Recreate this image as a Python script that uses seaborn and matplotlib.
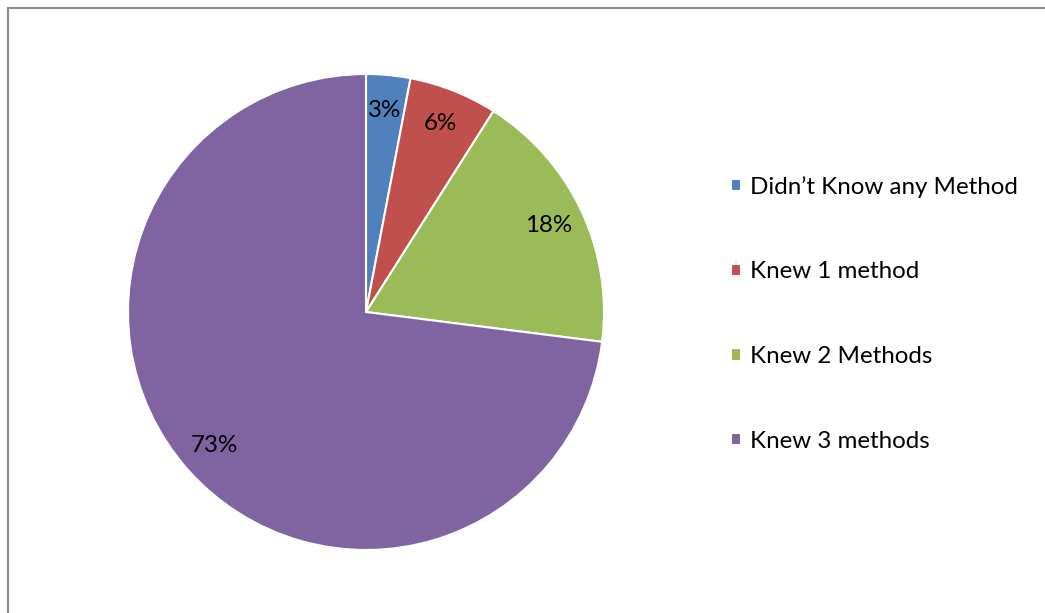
import seaborn as sns
import matplotlib.pyplot as plt
from matplotlib.patches import Rectangle

categories = ['Didn\u2019t Know any Method', 'Knew 1 method', 'Knew 2 Methods', 'Knew 3 methods']
shares = [3, 6, 18, 73]
colors = ['#4F81BD', '#C0504D', '#9BBB59', '#8064A2']

sns.set_theme(style='white')
plt.rcParams['font.family'] = ['Lato', 'DejaVu Sans']

fig = plt.figure(figsize=(10.45, 6.13), dpi=100)

# grey frame around the chart area (open to the right and bottom)
fig.patches.append(Rectangle((8 / 1045, -0.1), 1.2, (613 - 8) / 613 + 0.1,
                             transform=fig.transFigure, fill=False,
                             edgecolor='#8c8c8c', linewidth=1.5))

ax = fig.add_axes([128 / 1045, 63 / 613, 476 / 1045, 476 / 613])
palette = sns.color_palette(colors)
wedges, texts, autotexts = ax.pie(
    shares, colors=palette, startangle=90, counterclock=False,
    autopct='%d%%', pctdistance=0.85,
    wedgeprops={'edgecolor': 'white', 'linewidth': 1.5},
    textprops={'fontsize': 17.4, 'color': 'black'})
ax.set_xlim(-1, 1)
ax.set_ylim(-1, 1)
ax.set_aspect('equal')
ax.axis('off')

fig.legend(wedges, categories, loc='upper left',
           bbox_to_anchor=(731 / 1045, 1 - 176 / 613),
           frameon=False, fontsize=17.4, labelcolor='black',
           handlelength=0.42, handleheight=0.42,
           handletextpad=0.38, labelspacing=2.63, borderaxespad=0, borderpad=0)

plt.savefig('out.png', dpi=100)
plt.close()
